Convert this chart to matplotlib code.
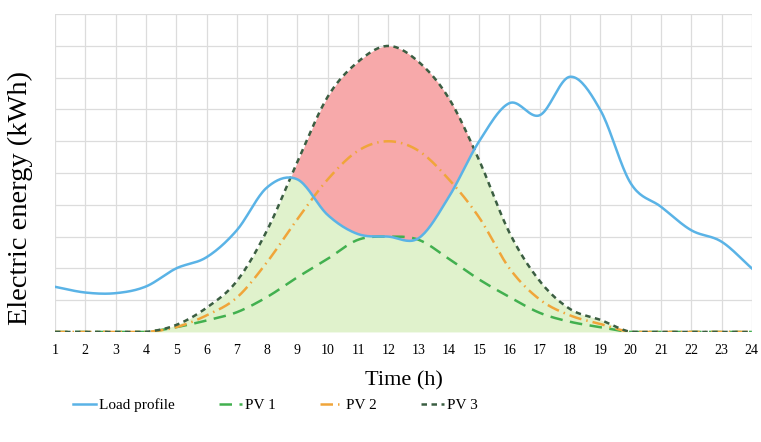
import numpy as np
import matplotlib
matplotlib.use("Agg")
import matplotlib.pyplot as plt

hours = list(range(1, 25))
load = [1.42, 1.24, 1.22, 1.43, 2.0, 2.35, 3.2, 4.55, 4.8, 3.68, 3.08, 3.0,
        2.95, 4.25, 6.0, 7.2, 6.82, 8.03, 6.98, 4.68, 3.94, 3.2, 2.84, 2.0]
pv1 = [0, 0, 0, 0, 0.15, 0.36, 0.62, 1.1, 1.72, 2.3, 2.9, 3.0,
       2.9, 2.3, 1.65, 1.1, 0.6, 0.32, 0.15, 0, 0, 0, 0, 0]
pv2 = [0, 0, 0, 0, 0.15, 0.52, 1.08, 2.2, 3.55, 4.8, 5.7, 6.0,
       5.7, 4.8, 3.6, 2.0, 1.02, 0.52, 0.25, 0, 0, 0, 0, 0]
pv3 = [0, 0, 0, 0, 0.22, 0.76, 1.6, 3.2, 5.35, 7.4, 8.5, 9.0,
       8.5, 7.35, 5.4, 3.12, 1.6, 0.72, 0.38, 0, 0, 0, 0, 0]
labels = ["Load profile", "PV 1", "PV 2", "PV 3"]


def smooth(x, y, n=20):
    x = np.asarray(x, float)
    y = np.asarray(y, float)
    m = np.zeros_like(y)
    m[1:-1] = (y[2:] - y[:-2]) / (x[2:] - x[:-2])
    m[0] = y[1] - y[0]
    m[-1] = y[-1] - y[-2]
    xs, ys = [], []
    for i in range(len(x) - 1):
        t = np.linspace(0, 1, n, endpoint=False)
        h = x[i + 1] - x[i]
        h00 = 2 * t**3 - 3 * t**2 + 1
        h10 = t**3 - 2 * t**2 + t
        h01 = -2 * t**3 + 3 * t**2
        h11 = t**3 - t**2
        xs.append(x[i] + t * h)
        ys.append(h00 * y[i] + h10 * h * m[i] + h01 * y[i + 1] + h11 * h * m[i + 1])
    xs.append([x[-1]])
    ys.append([y[-1]])
    return np.concatenate(xs), np.concatenate(ys)


plt.rcParams['font.family'] = ['Liberation Serif', 'DejaVu Serif']

fig = plt.figure(figsize=(7.61, 4.42), dpi=100)
ax = fig.add_axes([0.0723, 0.249, 0.9157, 0.719])

xs, ls = smooth(hours, load)
_, p1 = smooth(hours, pv1)
_, p2 = smooth(hours, pv2)
_, p3 = smooth(hours, pv3)
p1 = np.clip(p1, 0, None)
p2 = np.clip(p2, 0, None)
p3 = np.clip(p3, 0, None)

ax.fill_between(xs, 0, np.minimum(ls, p3), color='#e0f2cc', lw=0, zorder=1)
ax.fill_between(xs, ls, p3, where=p3 > ls, interpolate=True,
                color='#f7a9aa', lw=0, zorder=1)

ax.plot(xs, ls, color='#5ab3e6', lw=1.8, label=labels[0], zorder=4)
ax.plot(xs, p1, color='#42b04f', lw=1.8, dashes=(5, 3), label=labels[1], zorder=3)
ax.plot(xs, p2, color='#f0a53a', lw=1.8, dashes=(5, 2, 0.6, 2), label=labels[2], zorder=3)
ax.plot(xs, p3, color='#3b5e42', lw=1.8, dashes=(2.2, 1.8), label=labels[3], zorder=3)

ax.set_xlim(1, 24)
ax.set_ylim(0, 10)
ax.set_xticks(hours)
ax.set_xticklabels([str(h) for h in hours], fontsize=10)
ax.set_yticks(np.arange(0, 11, 1))
ax.set_yticklabels([])
ax.tick_params(axis='both', length=0, pad=9)
ax.grid(True, color='#dcdcdc', lw=0.9)
ax.set_axisbelow(True)
for s in ax.spines.values():
    s.set_visible(False)

ax.set_xlabel('Time (h)', fontsize=16, labelpad=10)
ax.set_ylabel('Electric energy (kWh)', fontsize=20.5)
ax.yaxis.set_label_coords(-0.031, 0.42)

leg = fig.legend(loc='center', bbox_to_anchor=(0.362, 0.083), ncol=4, frameon=False,
                 fontsize=11, handlelength=1.5, handletextpad=0.2, columnspacing=2.9)

fig.savefig('out.png', dpi=100)
